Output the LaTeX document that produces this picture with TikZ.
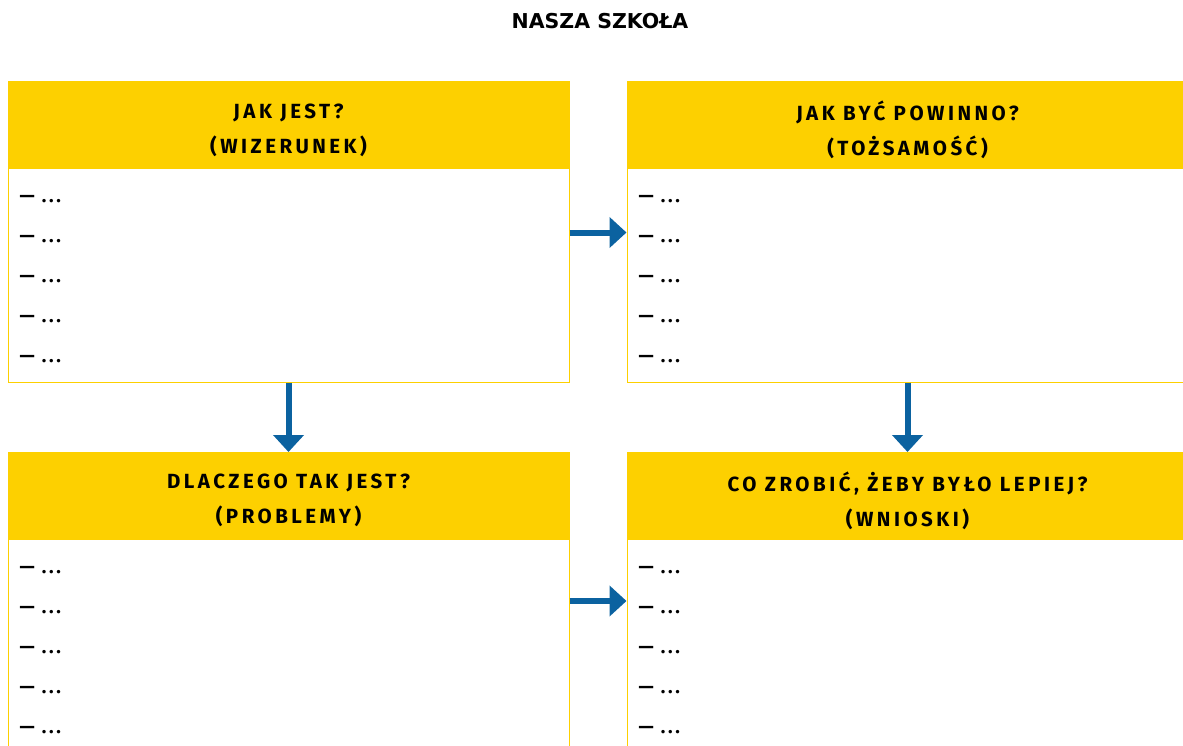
\documentclass[tikz,border=0pt]{standalone}
\usepackage{fontspec}
\setmainfont{Fira Sans}[BoldFont={Fira Sans Bold}]
\newfontfamily\titlefont{DejaVu Sans}
\newfontfamily\headfont[LetterSpace=17, BoldFont={Fira Sans Bold}]{Fira Sans}
\newfontfamily\itemfont[LetterSpace=14, BoldFont={Fira Sans Bold}]{Fira Sans}
\usetikzlibrary{arrows.meta,positioning}

\definecolor{schoolyellow}{RGB}{253,208,0}
\definecolor{arrowblue}{RGB}{11,98,160}

\tikzset{
  headbox/.style={draw=schoolyellow, fill=schoolyellow, line width=1pt,
    minimum width=561pt, minimum height=86pt, inner sep=0pt},
  headtext/.style={align=center, inner sep=0pt,
    font=\headfont\bfseries\fontsize{20.5}{35}\selectfont},
  bodybox/.style={draw=schoolyellow, line width=1pt, fill=white,
    minimum width=561pt, minimum height=213pt, inner sep=0pt},
  itemlist/.style={anchor=north west, align=left, inner sep=0pt,
    font=\itemfont\bfseries\fontsize{19}{40}\selectfont},
  flow/.style={arrowblue, line width=6pt, -{Triangle[width=30pt,length=17pt]}}
}

\newcommand{\points}{— ...\\— ...\\— ...\\— ...\\— ...}

\begin{document}
\begin{tikzpicture}[x=1pt, y=-1pt]
  \useasboundingbox (0,0) rectangle (1183,746);
  \clip (0,0) rectangle (1183,746);

  % Title
  \node[font=\titlefont\bfseries\fontsize{20.5}{24}\selectfont] (title) at (600,21) {NASZA SZKOŁA};

  % Top row
  \node[headbox] (wizhead) at (288.5,125) {};
  \node[headtext] (wiztext) at ([yshift=-5pt]wizhead.center) {JAK JEST?\\(WIZERUNEK)};
  \node[bodybox, below=0pt of wizhead] (wizbody) {};
  \node[itemlist] (wizlist) at ([xshift=12pt,yshift=-27pt]wizbody.north west) {\points};

  \node[headbox] (tozhead) at (907.5,125) {};
  \node[headtext] (toztext) at ([yshift=-5pt]tozhead.center) {JAK BYĆ POWINNO?\\(TOŻSAMOŚĆ)};
  \node[bodybox, below=0pt of tozhead] (tozbody) {};
  \node[itemlist] (tozlist) at ([xshift=12pt,yshift=-27pt]tozbody.north west) {\points};

  % Bottom row
  \node[headbox] (probhead) at (288.5,495.5) {};
  \node[headtext] (probtext) at ([yshift=-5pt]probhead.center) {DLACZEGO TAK JEST?\\(PROBLEMY)};
  \node[bodybox, below=0pt of probhead] (probbody) {};
  \node[itemlist] (problist) at ([xshift=12pt,yshift=-27pt]probbody.north west) {\points};

  \node[headbox] (wnihead) at (907.5,495.5) {};
  \node[headtext] (wnitext) at ([yshift=-5pt]wnihead.center) {CO ZROBIĆ, ŻEBY BYŁO LEPIEJ?\\(WNIOSKI)};
  \node[bodybox, below=0pt of wnihead] (wnibody) {};
  \node[itemlist] (wnilist) at ([xshift=12pt,yshift=-27pt]wnibody.north west) {\points};

  % Arrows
  \draw[flow] ([yshift=-64pt]wizbody.north east) -- ([yshift=-64pt]tozbody.north west);
  \draw[flow] ([yshift=-62pt]probbody.north east) -- ([yshift=-62pt]wnibody.north west);
  \draw[flow] (wizbody.south) -- (probhead.north);
  \draw[flow] (tozbody.south) -- (wnihead.north);
\end{tikzpicture}
\end{document}
